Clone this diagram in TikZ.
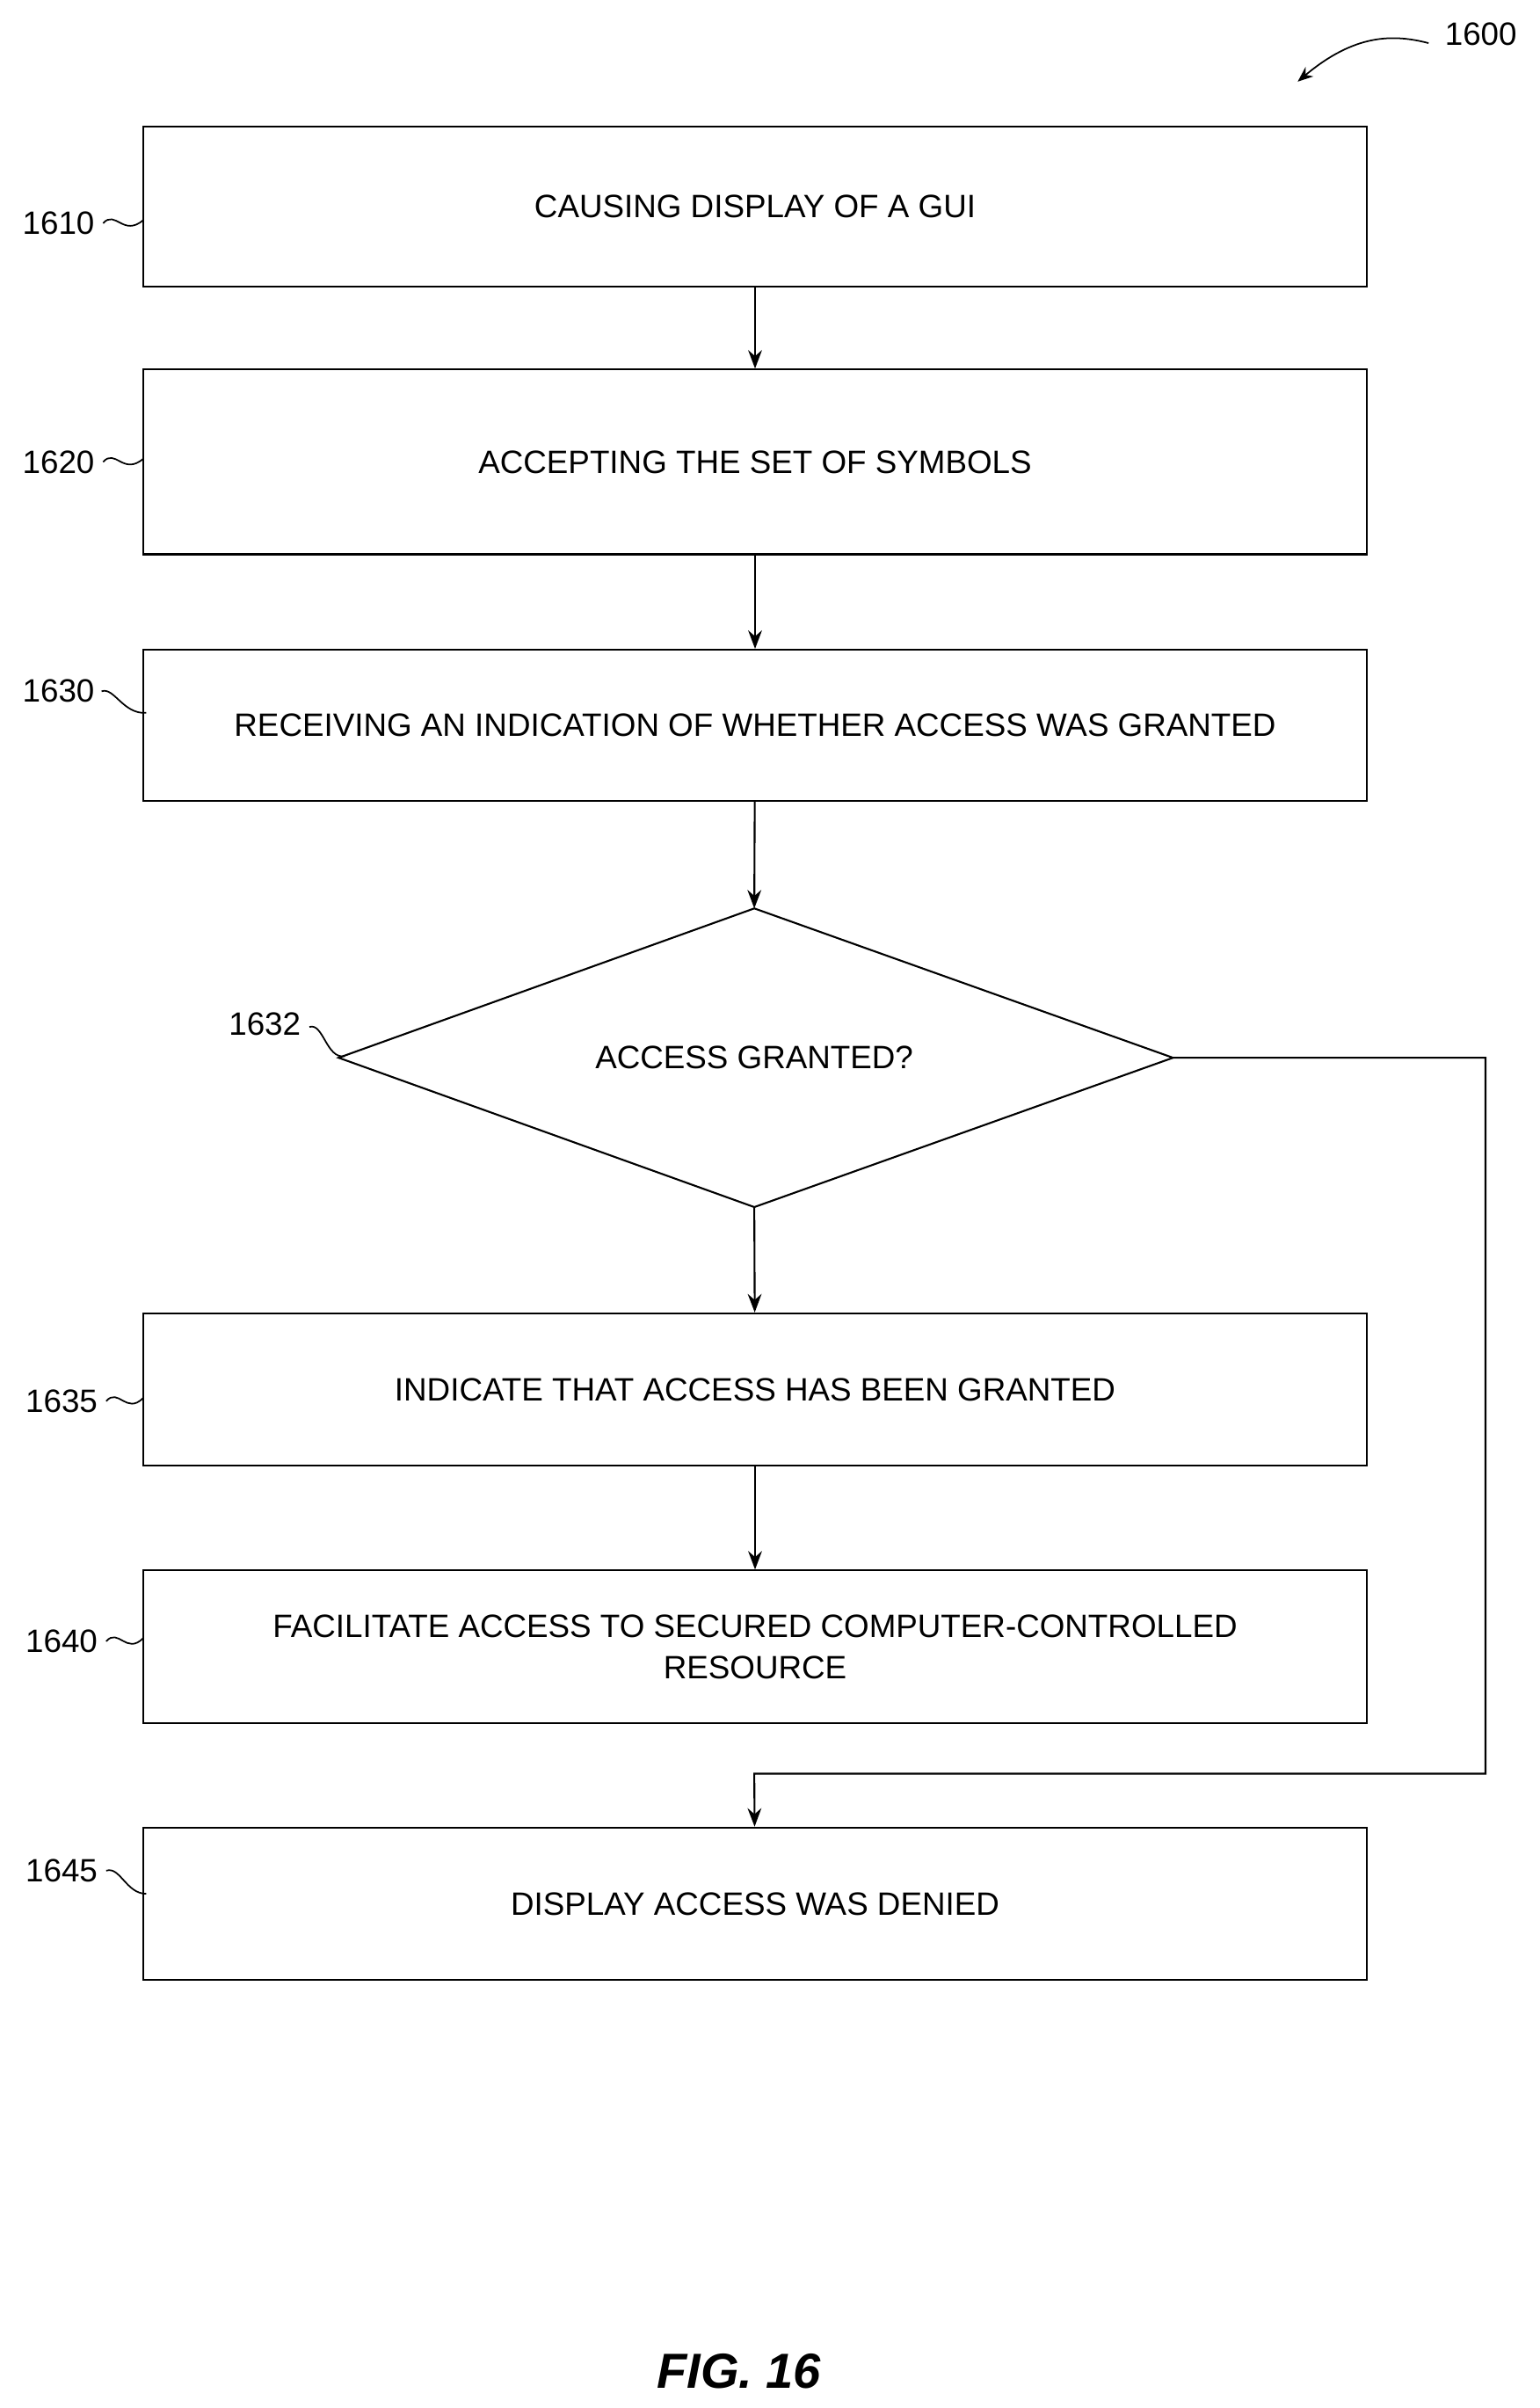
\documentclass[tikz,border=0pt]{standalone}
\usepackage{fontspec}
\setmainfont{Liberation Sans}
\usetikzlibrary{shapes.geometric,arrows.meta}
\begin{document}
\begin{tikzpicture}[x=1pt,y=-1pt,
 box/.style={draw,line width=1.2pt,minimum width=795pt,inner sep=0pt,align=center,font=\fontsize{21}{27}\selectfont},
 lab/.style={font=\fontsize{21}{24}\selectfont,inner sep=0pt},
 arr/.style={line width=1.2pt,-{Stealth[length=12pt,width=9pt]}},
 sq/.style={line width=1pt}]
\useasboundingbox (0,0) rectangle (1000,1564);
\node[box,minimum height=104pt] (b1) at (490.5,134) {CAUSING DISPLAY OF A GUI};
\node[box,minimum height=120pt] (b2) at (490.5,300) {ACCEPTING THE SET OF SYMBOLS};
\node[box,minimum height=98pt] (b3) at (490.5,471) {RECEIVING AN INDICATION OF WHETHER ACCESS WAS GRANTED};
\coordinate (dt) at (490,590); \coordinate (db) at (490,784);
\coordinate (dl) at (220,687); \coordinate (dr) at (762,687);
\draw[line width=1.2pt] (dt) -- (dr) -- (db) -- (dl) -- cycle;
\node[font=\fontsize{21}{24}\selectfont] (d) at (490,687) {ACCESS GRANTED?};
\node[box,minimum height=99pt] (b4) at (490.5,902.5) {INDICATE THAT ACCESS HAS BEEN GRANTED};
\node[box,minimum height=99pt] (b5) at (490.5,1069.5) {FACILITATE ACCESS TO SECURED COMPUTER-CONTROLLED\\RESOURCE};
\node[box,minimum height=99pt] (b6) at (490.5,1236.5) {DISPLAY ACCESS WAS DENIED};
\draw[arr] (b1) -- (b2);
\draw[arr] (b2) -- (b3);
\draw[arr] (b3) -- (dt);
\draw[arr] (db) -- (b4);
\draw[arr] (b4) -- (b5);
\coordinate (c1) at (965,687); \coordinate (c2) at (965,1152); \coordinate (c3) at (490,1152);
\draw[arr] (dr) -- (c1) -- (c2) -- (c3) -- (b6);
% labels
\node[lab] (l1) at (38,145) {1610};
\draw[sq] (67,145) .. controls (75,136) and (80,154) .. (93,143);
\node[lab] (l2) at (38,300) {1620};
\draw[sq] (67,300) .. controls (75,291) and (80,309) .. (93,298);
\node[lab] (l3) at (38,449) {1630};
\draw[sq] (66,449) .. controls (74,446) and (80,464) .. (95,463);
\node[lab] (l4) at (172,665) {1632};
\draw[sq] (201,667) .. controls (210,664) and (212,688) .. (224,686);
\node[lab] (l5) at (40,910) {1635};
\draw[sq] (69,910) .. controls (77,901) and (82,919) .. (93,908);
\node[lab] (l6) at (40,1066) {1640};
\draw[sq] (69,1066) .. controls (77,1057) and (82,1075) .. (93,1064);
\node[lab] (l7) at (40,1215) {1645};
\draw[sq] (69,1215) .. controls (78,1212) and (82,1230) .. (95,1230);
\node[lab] (l8) at (962,22) {1600};
\draw[sq,-{Stealth[length=10pt,width=8pt]}] (928,28) .. controls (905,22) and (880,22) .. (843,53);
\node[font=\fontsize{32}{36}\selectfont\bfseries\itshape] (fig) at (480,1540) {FIG. 16};
\end{tikzpicture}
\end{document}
